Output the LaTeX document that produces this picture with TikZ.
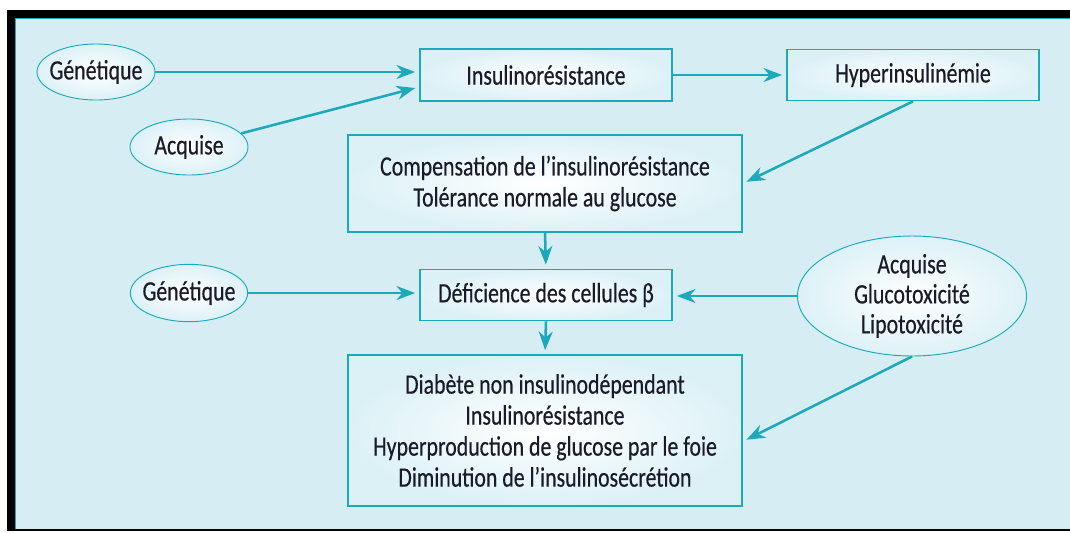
\documentclass[tikz,border=0pt]{standalone}
\usepackage{fontspec}
\setmainfont[FakeStretch=0.78,FakeBold=0.4]{Carlito}
\usetikzlibrary{arrows.meta,shapes.geometric,calc}
\definecolor{bgblue}{HTML}{D6EEF3}
\definecolor{tealline}{HTML}{1CA9B9}
\definecolor{boxedge}{HTML}{DCF1F6}
\definecolor{txtcol}{HTML}{1A1A28}
\begin{document}
\begin{tikzpicture}[x=0.75pt,y=-0.75pt,
  lbl/.style={text=txtcol,align=center,font=\fontsize{21}{23.25}\selectfont},
  box/.style={lbl,draw=tealline,line width=1.3pt,inner color=white,outer color=boxedge,inner sep=0pt},
  ell/.style={lbl,ellipse,draw=tealline,line width=0.7pt,inner color=white,outer color=boxedge,inner sep=-14pt},
  arr/.style={draw=tealline,line width=1.9pt,-{Stealth[length=14pt,width=10.5pt,inset=4.5pt]},shorten >=3pt}]
\useasboundingbox (0,0) rectangle (1070,532);
\fill[white] (0,0) rectangle (1070,532);
\fill[black] (7,10) rectangle (1070,531);
\fill[bgblue] (15,18) rectangle (1070,529);
\draw[tealline,line width=0.8pt] (15.5,529) -- (15.5,18.5) -- (1070,18.5);

\node[box,minimum width=189pt,minimum height=39pt] (ins) at (546,75) {Insulinorésistance};
\node[box,minimum width=189pt,minimum height=38.25pt] (hyp) at (913,75) {Hyperinsulinémie};
\node[box,minimum width=295.5pt,minimum height=72.75pt] (comp) at (545,183.5) {Compensation de l’insulinorésistance\\Tolérance normale au glucose};
\node[box,minimum width=189pt,minimum height=38.25pt] (def) at (546,295) {Déficience des cellules β};
\node[box,minimum width=295.5pt,minimum height=113.25pt] (diab) at (545,430.5) {Diabète non insulinodépendant\\Insulinorésistance\\Hyperproduction de glucose par le foie\\Diminution de l’insulinosécrétion};

\node[ell,minimum width=88.5pt,minimum height=42pt] (gen1) at (96,72) {Génétique};
\node[ell,minimum width=88.5pt,minimum height=42pt] (acq1) at (189,147) {Acquise};
\node[ell,minimum width=88pt,minimum height=43pt] (gen2) at (189,293) {Génétique};
\node[ell,minimum width=171.75pt,minimum height=90pt,font=\fontsize{21}{22.5}\selectfont,inner sep=-24pt] (acq2) at (912,296) {Acquise\\Glucotoxicité\\Lipotoxicité};

\coordinate (insA) at ($(ins.west)+(0,12)$);
\coordinate (diabA) at ($(diab.east)+(0,11)$);

\draw[arr] (gen1.east) -- (gen1.east -| ins.west);
\draw[arr] (acq1) -- (insA);
\draw[arr] (ins.east) -- (hyp.west);
\draw[arr] (hyp.south) -- (comp.east);
\draw[arr] (comp.south) -- (def.north);
\draw[arr] (gen2.east) -- (gen2.east -| def.west);
\draw[arr] (acq2.west) -- (acq2.west -| def.east);
\draw[arr] (def.south) -- (diab.north);
\draw[arr] (acq2.south) -- (diabA);
\end{tikzpicture}
\end{document}
